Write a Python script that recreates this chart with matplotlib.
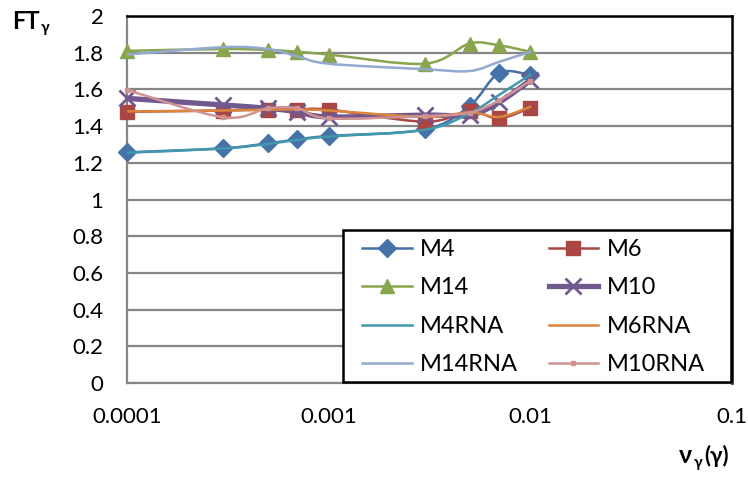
#!/usr/bin/env python3
"""FT_gamma vs nu_gamma(gamma), smoothed lines like the Excel original"""
import matplotlib
matplotlib.use('Agg')
import matplotlib.pyplot as plt
import numpy as np
from matplotlib.path import Path
from matplotlib.patches import PathPatch, Rectangle
from matplotlib.lines import Line2D

# data
nu = [0.0001, 0.0003, 0.0005, 0.0007, 0.001, 0.003, 0.005, 0.007, 0.01]

m4 = [1.257, 1.279, 1.306, 1.328, 1.346, 1.382, 1.51, 1.69, 1.678]
m6 = [1.478, 1.485, 1.49, 1.49, 1.49, 1.424, 1.48, 1.442, 1.50]
m14 = [1.81, 1.82, 1.815, 1.805, 1.79, 1.74, 1.85, 1.84, 1.805]
m10 = [1.551, 1.515, 1.497, 1.478, 1.45, 1.46, 1.46, 1.53, 1.65]
m4rna = [1.255, 1.278, 1.303, 1.325, 1.343, 1.38, 1.47, 1.57, 1.68]
m6rna = [1.48, 1.485, 1.49, 1.49, 1.485, 1.45, 1.475, 1.45, 1.505]
m14rna = [1.79, 1.83, 1.82, 1.78, 1.74, 1.71, 1.70, 1.75, 1.805]
m10rna = [1.597, 1.448, 1.497, 1.497, 1.442, 1.455, 1.473, 1.54, 1.647]

names = ['M4', 'M6', 'M14', 'M10', 'M4RNA', 'M6RNA', 'M14RNA', 'M10RNA']
values = [m4, m6, m14, m10, m4rna, m6rna, m14rna, m10rna]
colors = ['#4572A7', '#AA4643', '#89A54E', '#71588F',
	'#4198AF', '#DB843D', '#93A9CF', '#D19392']
markers = ['D', 's', '^', 'x', None, None, None, 's']
msizes = [9, 9.5, 10, 11, 0, 0, 0, 3.5]
widths = [1.8, 1.8, 1.8, 3.8, 1.8, 1.8, 1.8, 1.8]

FONT = 'Lato'


def smooth_path(x, y):
	# Excel style bezier smoothing, control points built in (log x, y)
	lx = np.log10(x)
	y = np.asarray(y, dtype=float)
	n = len(lx)
	verts = [(x[0], y[0])]
	codes = [Path.MOVETO]
	for i in range(n - 1):
		p0 = max(i - 1, 0)
		p3 = min(i + 2, n - 1)
		c1x = lx[i] + (lx[i + 1] - lx[p0]) / 6
		c1y = y[i] + (y[i + 1] - y[p0]) / 6
		c2x = lx[i + 1] - (lx[p3] - lx[i]) / 6
		c2y = y[i + 1] - (y[p3] - y[i]) / 6
		verts += [(10 ** c1x, c1y), (10 ** c2x, c2y), (x[i + 1], y[i + 1])]
		codes += [Path.CURVE4] * 3
	return Path(verts, codes)


def main():
	plt.rcParams['font.family'] = [FONT, 'DejaVu Sans']
	W, H = 748, 482
	fig = plt.figure(figsize=(W / 100, H / 100), dpi=100)
	ax = fig.add_axes([127 / W, 1 - 383 / H, (732 - 127) / W, (383 - 16) / H])

	ax.set_xscale('log')
	ax.set_xlim(0.0001, 0.1)
	ax.set_ylim(0, 2)
	ax.set_yticks(np.arange(0, 2.01, 0.2))
	ax.set_yticklabels(['0', '0.2', '0.4', '0.6', '0.8', '1', '1.2', '1.4', '1.6', '1.8', '2'])
	ax.set_xticks([0.0001, 0.001, 0.01, 0.1])
	ax.set_xticklabels(['0.0001', '0.001', '0.01', '0.1'])
	ax.minorticks_off()
	ax.tick_params(axis='both', length=0, labelsize=16, colors='black')
	ax.tick_params(axis='x', pad=17)
	ax.tick_params(axis='y', pad=17)
	ax.yaxis.grid(True, color='#868686', linewidth=1.6)
	ax.set_axisbelow(True)
	for s in ['left', 'bottom']:
		ax.spines[s].set_color('#868686')
		ax.spines[s].set_linewidth(1.6)
	for s in ['top', 'right']:
		ax.spines[s].set_color('black')
		ax.spines[s].set_linewidth(1.8)

	handles = []
	for k, (name, yv) in enumerate(zip(names, values)):
		z = 3 + 2 * k
		patch = PathPatch(smooth_path(nu, yv), facecolor='none', edgecolor=colors[k],
			linewidth=widths[k], transform=ax.transData, zorder=z, capstyle='round')
		ax.add_patch(patch)
		if markers[k]:
			mew = 2 if markers[k] == 'x' else 1
			ax.plot(nu, yv, linestyle='none', marker=markers[k], markersize=msizes[k],
				color=colors[k], markeredgewidth=mew, zorder=z + 1, clip_on=False)
		handles.append(Line2D([], [], color=colors[k], linewidth=widths[k],
			marker=markers[k], markersize=msizes[k],
			markeredgewidth=2 if markers[k] == 'x' else 1))

	# legend fills row by row in the original
	order = [0, 2, 4, 6, 1, 3, 5, 7]
	box = Rectangle((343 / W, 1 - 382 / H), (731 - 343) / W, (382 - 230) / H,
		transform=fig.transFigure, facecolor='white', edgecolor='black', linewidth=1.8, zorder=20)
	fig.patches.append(box)
	leg = fig.legend([handles[i] for i in order], [names[i] for i in order], ncol=2,
		loc='upper left', bbox_to_anchor=(362 / W, 1 - 239 / H),
		fontsize=17, frameon=False, handlelength=2.1, handletextpad=0.35,
		labelspacing=0.74, borderaxespad=0, borderpad=0, columnspacing=1.3)
	leg.set_zorder(30)

	# axis titles with gamma subscripts
	fig.text(12 / W, 1 - 29 / H, 'FT', fontsize=17, fontweight='bold', ha='left', va='baseline')
	fig.text(41 / W, 1 - 32 / H, 'γ', fontsize=11, fontweight='bold', ha='left', va='baseline')
	fig.text(679 / W, 1 - 463 / H, 'ν', fontsize=18, fontweight='bold', ha='left', va='baseline')
	fig.text(694 / W, 1 - 467 / H, 'γ', fontsize=11, fontweight='bold', ha='left', va='baseline')
	fig.text(704 / W, 1 - 463 / H, '(γ)', fontsize=16, fontweight='bold', ha='left', va='baseline')

	fig.savefig('out.png', dpi=100)


if __name__ == '__main__':
	main()
